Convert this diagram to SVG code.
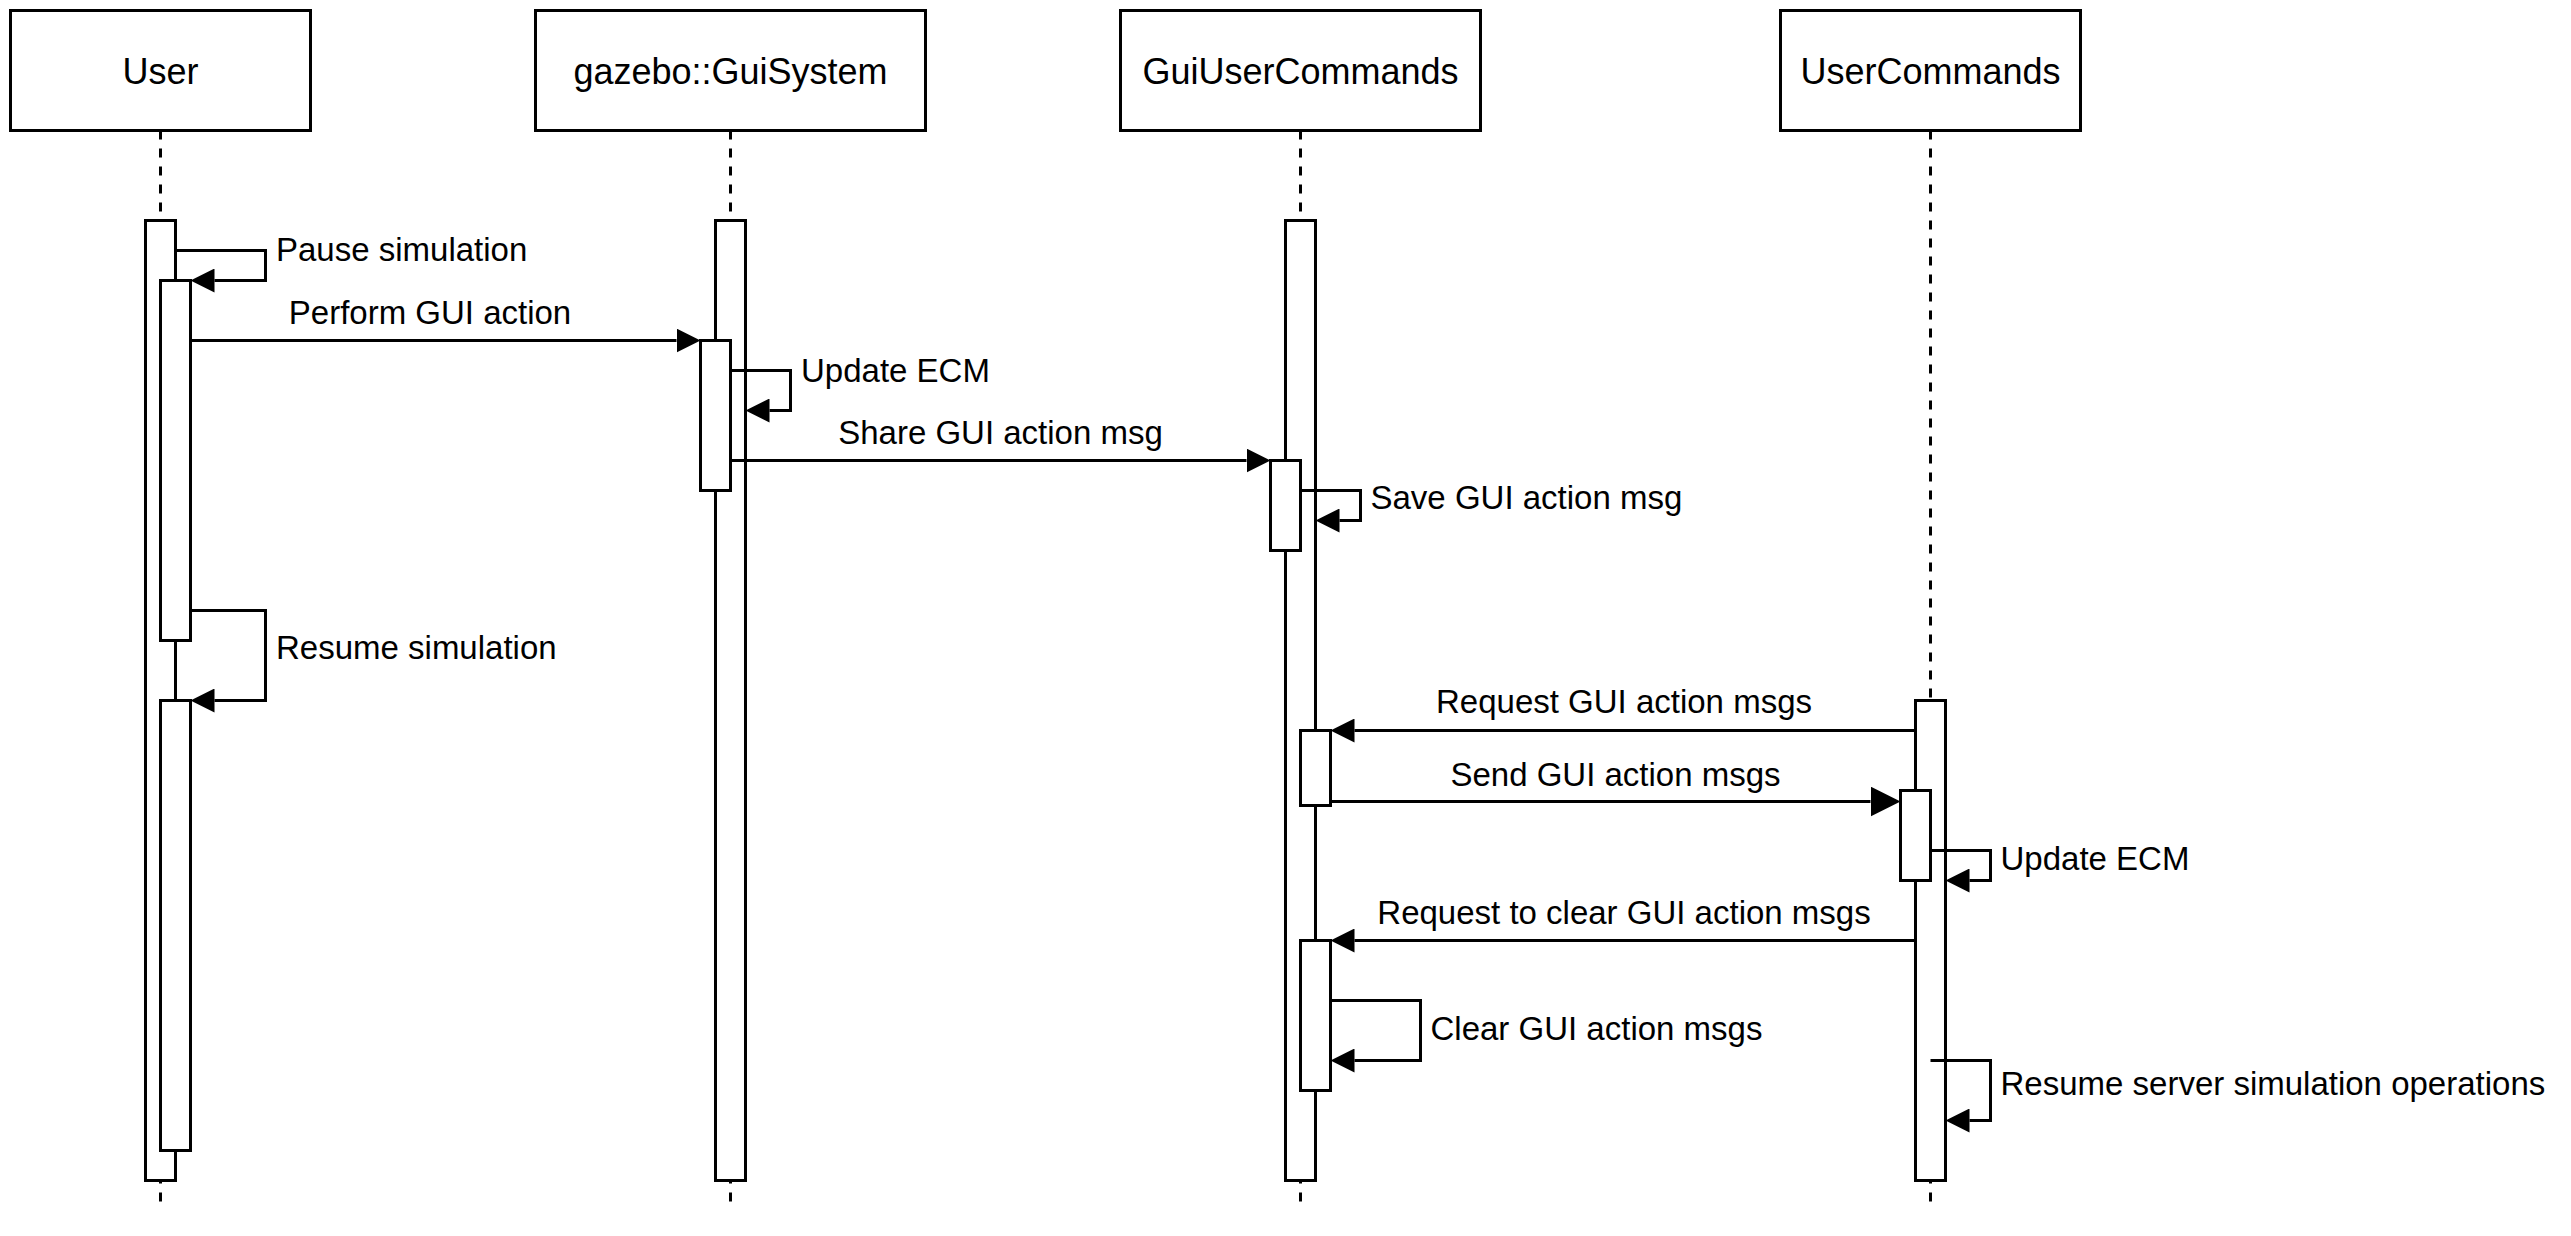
<svg xmlns="http://www.w3.org/2000/svg" width="2571" height="1236" viewBox="0 0 2571 1236">
  <style>
    .box { fill: #ffffff; stroke: #000000; stroke-width: 3; }
    .life { fill: none; stroke: #000000; stroke-width: 3; stroke-dasharray: 9 9; }
    .act { fill: #ffffff; stroke: #000000; stroke-width: 3; }
    .msg { fill: none; stroke: #000000; stroke-width: 3; marker-end: url(#arr); }
    .msg-big { fill: none; stroke: #000000; stroke-width: 3; marker-end: url(#arrBig); }
    text { font-family: "Liberation Sans", Arial, Helvetica, sans-serif; font-size: 33px; fill: #000000; }
    .c { text-anchor: middle; }
    .p { font-size: 36px; text-anchor: middle; }
  </style>
  <defs>
    <marker id="arr" markerUnits="userSpaceOnUse" markerWidth="24" markerHeight="24" viewBox="0 0 24 24" refX="0" refY="12" orient="auto">
      <path d="M0,0 L24,12 L0,24 Z" fill="#000000"/>
    </marker>
    <marker id="arrBig" markerUnits="userSpaceOnUse" markerWidth="30" markerHeight="30" viewBox="0 0 30 30" refX="0" refY="15" orient="auto">
      <path d="M0,0 L30,15 L0,30 Z" fill="#000000"/>
    </marker>
  </defs>
  <rect x="0" y="0" width="2571" height="1236" fill="#ffffff"/>

  <g id="lifelines">
    <line class="life" x1="160.5" y1="130.5" x2="160.5" y2="1210.5"/>
    <line class="life" x1="730.5" y1="130.5" x2="730.5" y2="1210.5"/>
    <line class="life" x1="1300.5" y1="130.5" x2="1300.5" y2="1210.5"/>
    <line class="life" x1="1930.5" y1="130.5" x2="1930.5" y2="1210.5"/>
  </g>

  <g id="node-user">
    <rect class="box" x="10.5" y="10.5" width="300" height="120"/>
    <text class="p" x="160.5" y="83.5">User</text>
    <rect class="act" x="145.5" y="220.5" width="30" height="960"/>
    <rect class="act" x="160.5" y="280.5" width="30" height="360"/>
    <rect class="act" x="160.5" y="700.5" width="30" height="450"/>
  </g>

  <g id="node-guisystem">
    <rect class="box" x="535.5" y="10.5" width="390" height="120"/>
    <text class="p" x="730.5" y="83.5">gazebo::GuiSystem</text>
    <rect class="act" x="715.5" y="220.5" width="30" height="960"/>
    <rect class="act" x="700.5" y="340.5" width="30" height="150"/>
  </g>

  <g id="node-guiusercommands">
    <rect class="box" x="1120.5" y="10.5" width="360" height="120"/>
    <text class="p" x="1300.5" y="83.5">GuiUserCommands</text>
    <rect class="act" x="1285.5" y="220.5" width="30" height="960"/>
    <rect class="act" x="1270.5" y="460.5" width="30" height="90"/>
    <rect class="act" x="1300.5" y="730.5" width="30" height="75"/>
    <rect class="act" x="1300.5" y="940.5" width="30" height="150"/>
  </g>

  <g id="node-usercommands">
    <rect class="box" x="1780.5" y="10.5" width="300" height="120"/>
    <text class="p" x="1930.5" y="83.5">UserCommands</text>
    <rect class="act" x="1915.5" y="700.5" width="30" height="480"/>
    <rect class="act" x="1900.5" y="790.5" width="30" height="90"/>
  </g>

  <g id="connectors">
    <path class="msg" d="M175.5,250.5 H265.5 V280.5 H214.5"/>
    <path class="msg" d="M190.5,340.5 H676.5"/>
    <path class="msg" d="M730.5,370.5 H790.5 V410.5 H769.5"/>
    <path class="msg" d="M730.5,460.5 H1246.5"/>
    <path class="msg" d="M1300.5,490.5 H1360.5 V520.5 H1339.5"/>
    <path class="msg" d="M190.5,610.5 H265.5 V700.5 H214.5"/>
    <path class="msg" d="M1915.5,730.5 H1354.5"/>
    <path class="msg-big" d="M1330.5,801.5 H1870.5"/>
    <path class="msg" d="M1930.5,850.5 H1990.5 V880.5 H1969.5"/>
    <path class="msg" d="M1915.5,940.5 H1354.5"/>
    <path class="msg" d="M1330.5,1000.5 H1420.5 V1060.5 H1354.5"/>
    <path class="msg" d="M1930.5,1060.5 H1990.5 V1120.5 H1969.5"/>
  </g>

  <g id="labels">
    <text x="276" y="260.5">Pause simulation</text>
    <text class="c" x="430" y="324">Perform GUI action</text>
    <text x="801" y="381.5">Update ECM</text>
    <text class="c" x="1000.5" y="444">Share GUI action msg</text>
    <text x="1370.5" y="509">Save GUI action msg</text>
    <text x="276" y="658.5">Resume simulation</text>
    <text class="c" x="1624" y="713">Request GUI action msgs</text>
    <text class="c" x="1615.5" y="785.5">Send GUI action msgs</text>
    <text x="2000.5" y="869.5">Update ECM</text>
    <text class="c" x="1624" y="923.5">Request to clear GUI action msgs</text>
    <text x="1430.5" y="1040">Clear GUI action msgs</text>
    <text x="2000.5" y="1095">Resume server simulation operations</text>
  </g>
</svg>
